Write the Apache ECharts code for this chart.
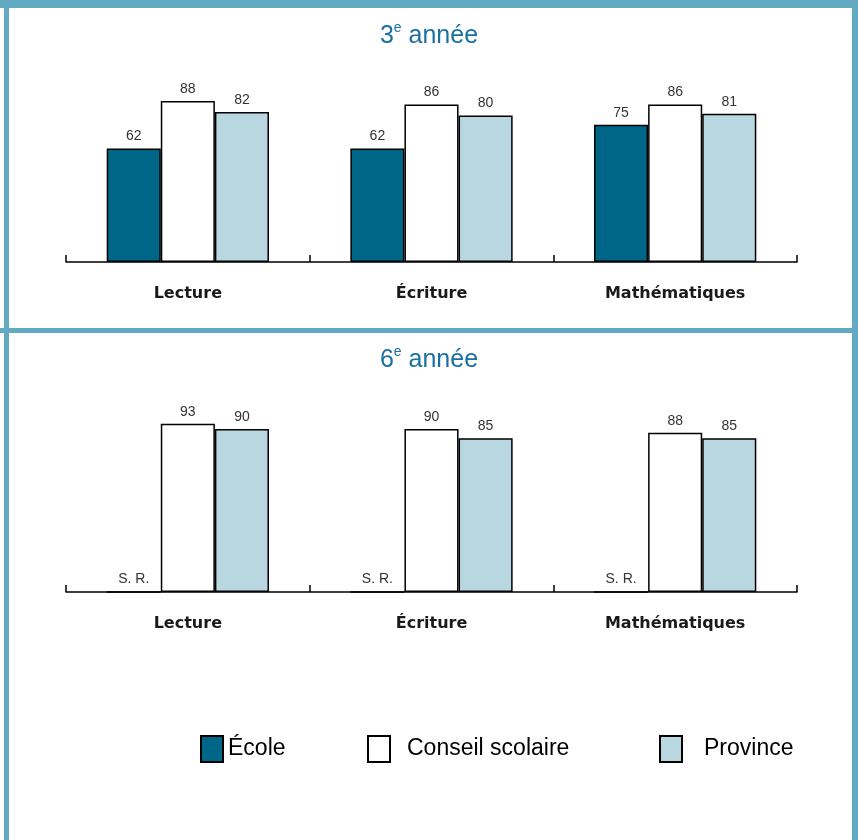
<!DOCTYPE html>
<html>
<head>
<meta charset="utf-8">
<script src="https://cdn.jsdelivr.net/npm/echarts@6/dist/echarts.min.js"></script>
<style>
  html, body { margin: 0; padding: 0; background: #fff; }
  #chart { width: 858px; height: 840px; }
</style>
</head>
<body>
<div id="chart"></div>
<script>
// ---- Data ----
const categories = ['Lecture', 'Écriture', 'Mathématiques'];
const seriesNames = ['École', 'Conseil scolaire', 'Province'];
const ecole3 = [62, 62, 75];
const conseil3 = [88, 86, 86];
const province3 = [82, 80, 81];
const ecole6 = ['S. R.', 'S. R.', 'S. R.'];   // sans résultat
const conseil6 = [93, 90, 88];
const province6 = [90, 85, 85];
const panelTitles = ['3', '6'];

// ---- Styles ----
const BORDER = '#62AAC2';
const colors = ['#006687', '#FFFFFF', '#B9D7E1'];
const TITLE_COLOR = '#1A6FA3';

function toData(arr) {
  return arr.map(v => (typeof v === 'number')
    ? v
    : { value: 0, label: { formatter: String(v) } });
}

function makeSeries(name, data, idx, color) {
  return {
    name: name,
    type: 'bar',
    xAxisIndex: idx,
    yAxisIndex: idx,
    data: toData(data),
    barGap: '0%',
    barCategoryGap: '33.4%',
    itemStyle: { color: color, borderColor: '#000', borderWidth: 1.5 },
    label: {
      show: true,
      position: 'top',
      distance: 5,
      color: '#333',
      fontFamily: 'Liberation Sans, Arial, sans-serif',
      fontSize: 14
    },
    emphasis: { disabled: true }
  };
}

function xAxis(idx) {
  return {
    type: 'category',
    gridIndex: idx,
    data: categories,
    axisLine: { lineStyle: { color: '#000', width: 1.5 } },
    axisTick: { show: true, inside: true, length: 7, lineStyle: { color: '#000', width: 1.5 } },
    axisLabel: {
      margin: 24,
      color: '#1a1a1a',
      fontWeight: 'bold',
      fontFamily: 'DejaVu Sans, sans-serif',
      fontSize: 16
    }
  };
}
function yAxis(idx) {
  return {
    type: 'value',
    gridIndex: idx,
    min: 0, max: 100,
    show: false,
    splitLine: { show: false }
  };
}

function titleOpt(num, top) {
  return {
    text: '{n|' + num + '}{s|e}{n| année}',
    left: 'center',
    top: top,
    textStyle: {
      rich: {
        n: { fontSize: 25, fontWeight: 'normal', color: TITLE_COLOR, fontFamily: 'Liberation Sans, Arial, sans-serif', lineHeight: 28, verticalAlign: 'bottom' },
        s: { fontSize: 14, fontWeight: 'normal', color: TITLE_COLOR, fontFamily: 'Liberation Sans, Arial, sans-serif', lineHeight: 28, verticalAlign: 'top', padding: [0, 0, 14, 0] }
      }
    }
  };
}

function legendOpt(name, left, pad) {
  return {
    data: [name],
    left: left,
    top: 735,
    padding: 0,
    icon: 'rect',
    itemWidth: 22,
    itemHeight: 26,
    itemStyle: { borderColor: '#000', borderWidth: 2 },
    selectedMode: false,
    textStyle: {
      fontSize: 23,
      color: '#000',
      fontFamily: 'Liberation Sans, Arial, sans-serif',
      padding: [0, 0, 0, pad]
    }
  };
}

const chart = echarts.init(document.getElementById('chart'), null, { renderer: 'canvas' });
chart.setOption({
  animation: false,
  backgroundColor: '#fff',
  title: [titleOpt(panelTitles[0], 16), titleOpt(panelTitles[1], 340)],
  legend: [
    legendOpt(seriesNames[0], 200, 0),
    legendOpt(seriesNames[1], 367, 12),
    legendOpt(seriesNames[2], 659, 17)
  ],
  grid: [
    { left: 66, right: 61, top: 79, height: 183 },
    { left: 66, right: 61, top: 411, height: 181 }
  ],
  xAxis: [xAxis(0), xAxis(1)],
  yAxis: [yAxis(0), yAxis(1)],
  series: [
    makeSeries(seriesNames[0], ecole3, 0, colors[0]),
    makeSeries(seriesNames[1], conseil3, 0, colors[1]),
    makeSeries(seriesNames[2], province3, 0, colors[2]),
    makeSeries(seriesNames[0], ecole6, 1, colors[0]),
    makeSeries(seriesNames[1], conseil6, 1, colors[1]),
    makeSeries(seriesNames[2], province6, 1, colors[2])
  ],
  graphic: [
    { type: 'rect', shape: { x: 0, y: 0, width: 858, height: 8 }, style: { fill: BORDER }, z: 100 },
    { type: 'rect', shape: { x: 4, y: 0, width: 5, height: 840 }, style: { fill: BORDER }, z: 100 },
    { type: 'rect', shape: { x: 852, y: 0, width: 6, height: 840 }, style: { fill: BORDER }, z: 100 },
    { type: 'rect', shape: { x: 0, y: 328, width: 858, height: 5 }, style: { fill: BORDER }, z: 100 }
  ]
});
</script>
</body>
</html>
